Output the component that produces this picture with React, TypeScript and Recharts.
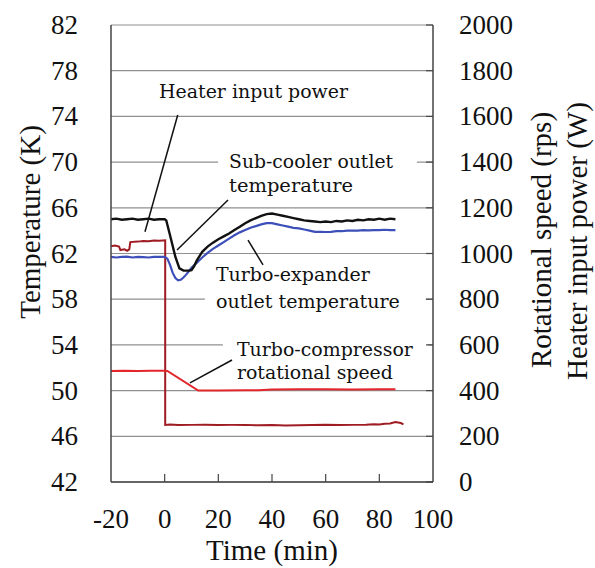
import React from 'react'
import {
  LineChart,
  Line,
  XAxis,
  YAxis,
  CartesianGrid,
  ReferenceArea,
  ReferenceLine,
} from 'recharts'

// time axis (min)
const timeTicks = [-20, 0, 20, 40, 60, 80, 100]
const tempTicks = [42, 46, 50, 54, 58, 62, 66, 70, 74, 78, 82]
const rightTicks = [0, 200, 400, 600, 800, 1000, 1200, 1400, 1600, 1800, 2000]

// sub-cooler outlet temperature (K)
const subTime = [
  -20, -18, -16, -14, -12, -10, -8, -6, -4, -2,
  0, 0.6, 2, 4, 5.5, 7, 9, 10, 11, 12,
  14, 16, 18, 20, 22, 24, 26, 28, 30, 32, 34, 36, 38, 40, 42, 44, 46, 48, 50,
  52, 54, 56, 58, 60, 62, 64, 66, 68, 70, 72, 74, 76, 78, 80, 82, 84, 86,
]
const subTemp = [
  65.0, 65.05, 64.95, 65.0, 65.05, 64.95, 65.0, 65.05, 64.95, 65.0,
  65.0, 64.9, 63.6, 61.7, 60.7, 60.5, 60.5, 60.55, 60.9, 61.4,
  62.15, 62.6, 62.95, 63.25, 63.5, 63.75, 64.05, 64.35, 64.65, 64.9, 65.1, 65.3, 65.45, 65.5, 65.4, 65.3, 65.2, 65.1, 65.0,
  64.9, 64.85, 64.8, 64.75, 64.8, 64.75, 64.85, 64.8, 64.9, 64.85, 64.95, 64.9, 65.0, 64.95, 65.05, 64.95, 65.05, 65.0,
]

// turbo-expander outlet temperature (K)
const expTime = [
  -20, -18, -16, -14, -12, -10, -8, -6, -4, -2,
  0, 1, 2, 3, 4, 5, 6, 7, 8, 9, 10,
  12, 14, 16, 18, 20, 22, 24, 26, 28, 30, 32, 34, 36, 38, 40, 42, 44, 46, 48, 50,
  52, 54, 56, 58, 60, 62, 64, 66, 68, 70, 72, 74, 76, 78, 80, 82, 84, 86,
]
const expTemp = [
  61.7, 61.65, 61.7, 61.72, 61.65, 61.7, 61.68, 61.65, 61.7, 61.7,
  61.7, 61.55, 61.0, 60.3, 59.85, 59.65, 59.7, 59.9, 60.15, 60.45, 60.75,
  61.2, 61.65, 62.05, 62.4, 62.7, 63.0, 63.3, 63.6, 63.85, 64.05, 64.25, 64.4, 64.55, 64.65, 64.65, 64.55, 64.45, 64.35, 64.25, 64.2,
  64.1, 64.0, 63.9, 63.9, 63.88, 63.9, 63.95, 63.95, 64.0, 64.0, 64.0, 64.05, 64.02, 64.05, 64.05, 64.08, 64.05, 64.05,
]

// heater input power (W)
const heatTime = [
  -20, -18.5, -17, -16.5, -15, -14, -13.2, -12.8, -10, -8, -6, -4, -2,
  0.2, 0.2, 2, 5,
  10, 15, 20, 25, 30, 35, 40, 45, 50, 55, 60, 65, 70, 75,
  78, 80, 82, 84, 86, 87, 88, 89,
]
const heatPower = [
  1032, 1035, 1030, 1015, 1018, 1012, 1018, 1050, 1052, 1055, 1054, 1057, 1056,
  1058, 250, 252, 249,
  250, 251, 249, 250, 250, 248, 249, 247, 248, 249, 250, 249, 250, 251,
  253, 252, 255, 256, 262, 260, 258, 252,
]

// turbo-compressor rotational speed (rps)
const compTime = [-20, -15, -10, -5, 0, 1, 12.5, 20, 30, 35, 40, 50, 60, 70, 80, 86]
const compSpeed = [486, 487, 486, 487, 487, 486, 400, 400, 401, 402, 405, 406, 406, 405, 406, 406]

// annotation boxes (time, K) and pointer lines
const notes = [
  { lines: ['Heater input power'], widths: [189], x1: -4.7, x2: 70.9, y1: 74.9, y2: 77.2, dx: 7, dy: [12] },
  { lines: ['Sub-cooler outlet', 'temperature'], widths: [164, 124], x1: 19.9, x2: 94.0, y1: 66.95, y2: 71.06, dx: 11, dy: [12, 36] },
  { lines: ['Turbo-expander', 'outlet temperature'], widths: [154, 184], x1: 15.0, x2: 97.3, y1: 56.88, y2: 61.17, dx: 11, dy: [12, 39] },
  { lines: ['Turbo-compressor', 'rotational speed'], widths: [176, 156], x1: 21.7, x2: 98.2, y1: 50.75, y2: 54.6, dx: 14, dy: [12, 35] },
]
const pointers = [
  [{ x: 4.86, y: 74.12 }, { x: -7.33, y: 63.91 }],
  [{ x: 23.6, y: 66.68 }, { x: 4.6, y: 62.31 }],
  [{ x: 31.06, y: 63.18 }, { x: 36.65, y: 61.0 }],
  [{ x: 25.1, y: 52.68 }, { x: 9.44, y: 50.67 }],
]

const zip = (t: number[], v: number[]) => t.map((x, i) => ({ t: x, v: v[i] }))

const serif = "'Liberation Serif', 'Times New Roman', Times, serif"
const borderColor = '#444'

const BottomTick = (props: any) => {
  const { x, y, payload } = props
  const inner = payload.value > -20 && payload.value < 100
  return (
    <g>
      {inner && <line x1={x} y1={y} x2={x} y2={y - 8} stroke={borderColor} strokeWidth={1.2} />}
      <text x={x} y={y + 46} textAnchor="middle" style={{ fontFamily: serif }} fontSize={27} fill="#111">
        {payload.value}
      </text>
    </g>
  )
}

const LeftTick = (props: any) => {
  const { x, y, payload } = props
  return (
    <text x={x - 33} y={y + 9} textAnchor="end" style={{ fontFamily: serif }} fontSize={27} fill="#111">
      {payload.value}
    </text>
  )
}

const RightTick = (props: any) => {
  const { x, y, payload } = props
  return (
    <g>
      <line x1={x} y1={y} x2={x - 7} y2={y} stroke={borderColor} strokeWidth={1.2} />
      <text x={x + 26} y={y + 9} textAnchor="start" style={{ fontFamily: serif }} fontSize={27} fill="#111">
        {payload.value}
      </text>
    </g>
  )
}

const noteLabel = (n: (typeof notes)[number]) => (props: any) => {
  const vb = props.viewBox
  return (
    <g>
      {n.lines.map((s, i) => (
        <text
          key={s}
          x={vb.x + n.dx}
          y={vb.y + n.dy[i] + 6}
          style={{ fontFamily: "'DejaVu Serif', serif" }}
          fontSize={18}
          fill="#111"
          textLength={n.widths[i]}
          lengthAdjust="spacingAndGlyphs"
        >
          {s}
        </text>
      ))}
    </g>
  )
}

const titleStyle = { fontFamily: serif }

export default function App() {
  return (
    <div style={{ position: 'absolute', left: 0, top: 0, background: '#fff' }}>
      <LineChart width={595} height={568} margin={{ top: 25, right: 0, bottom: 0, left: 0 }}>
        <CartesianGrid yAxisId="left" vertical={false} stroke="#909090" strokeWidth={1.2} />
        <XAxis
          dataKey="t"
          type="number"
          domain={[-20, 100]}
          ticks={timeTicks}
          height={86}
          axisLine={{ stroke: borderColor, strokeWidth: 1.5 }}
          tickLine={false}
          tickSize={0}
          tickMargin={0}
          tick={<BottomTick />}
          label={(p: any) => (
            <text
              x={p.viewBox.x + p.viewBox.width / 2}
              y={p.viewBox.y + 78}
              textAnchor="middle"
              style={titleStyle}
              fontSize={29}
              fill="#111"
            >
              Time (min)
            </text>
          )}
        />
        <XAxis
          xAxisId="top"
          orientation="top"
          type="number"
          domain={[-20, 100]}
          height={0}
          tick={false}
          tickLine={false}
          axisLine={{ stroke: borderColor, strokeWidth: 1.5 }}
        />
        <YAxis
          yAxisId="left"
          domain={[42, 82]}
          ticks={tempTicks}
          width={111}
          axisLine={{ stroke: borderColor, strokeWidth: 1.5 }}
          tickLine={false}
          tickSize={0}
          tickMargin={0}
          tick={<LeftTick />}
          label={() => (
            <text
              transform="translate(30, 222) rotate(-90)"
              textAnchor="middle"
              dominantBaseline="central"
              style={titleStyle}
              fontSize={29}
              fill="#111"
            >
              Temperature (K)
            </text>
          )}
        />
        <YAxis
          yAxisId="right"
          orientation="right"
          domain={[0, 2000]}
          ticks={rightTicks}
          width={162}
          axisLine={{ stroke: borderColor, strokeWidth: 1.5 }}
          tickLine={false}
          tickSize={0}
          tickMargin={0}
          tick={<RightTick />}
          label={(p: any) => (
            <g>
              <text
                transform={`translate(${p.viewBox.x + 108}, 240) rotate(-90)`}
                textAnchor="middle"
                dominantBaseline="central"
                style={titleStyle}
                fontSize={29}
                fill="#111"
              >
                Rotational speed (rps)
              </text>
              <text
                transform={`translate(${p.viewBox.x + 144}, 241) rotate(-90)`}
                textAnchor="middle"
                dominantBaseline="central"
                style={titleStyle}
                fontSize={29}
                fill="#111"
              >
                Heater input power (W)
              </text>
            </g>
          )}
        />

        {notes.map((n) => (
          <ReferenceArea
            key={n.lines[0]}
            yAxisId="left"
            x1={n.x1}
            x2={n.x2}
            y1={n.y1}
            y2={n.y2}
            fill="#fff"
            fillOpacity={1}
            stroke="none"
            label={noteLabel(n)}
          />
        ))}
        {pointers.map((seg, i) => (
          <ReferenceLine key={i} yAxisId="left" segment={seg} stroke="#111" strokeWidth={1.5} />
        ))}

        <Line
          data={zip(heatTime, heatPower)}
          yAxisId="right"
          dataKey="v"
          type="linear"
          stroke="#9e1c22"
          strokeWidth={2}
          dot={false}
          isAnimationActive={false}
        />
        <Line
          data={zip(compTime, compSpeed)}
          yAxisId="right"
          dataKey="v"
          type="linear"
          stroke="#e3262b"
          strokeWidth={2}
          dot={false}
          isAnimationActive={false}
        />
        <Line
          data={zip(expTime, expTemp)}
          yAxisId="left"
          dataKey="v"
          type="linear"
          stroke="#3d4fb8"
          strokeWidth={2.2}
          dot={false}
          isAnimationActive={false}
        />
        <Line
          data={zip(subTime, subTemp)}
          yAxisId="left"
          dataKey="v"
          type="linear"
          stroke="#111"
          strokeWidth={2.4}
          dot={false}
          isAnimationActive={false}
        />
      </LineChart>
    </div>
  )
}
